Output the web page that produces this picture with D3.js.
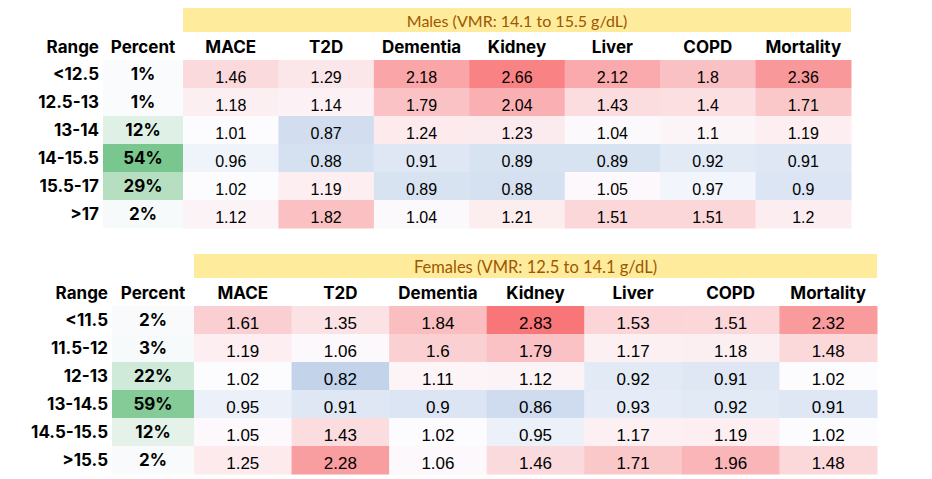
<!DOCTYPE html>
<html>
<head>
<meta charset="utf-8">
<script src="https://cdn.jsdelivr.net/npm/d3@7"></script>
<style>
  html, body { margin: 0; padding: 0; background: #ffffff; }
  svg { display: block; }
</style>
</head>
<body>
<svg id="chart" width="932" height="479"></svg>
<script>
// ---------- DATA ----------
const outcomes = ["MACE", "T2D", "Dementia", "Kidney", "Liver", "COPD", "Mortality"];

const maleTitle = "Males (VMR: 14.1 to 15.5 g/dL)";
const maleRanges = ["<12.5", "12.5-13", "13-14", "14-15.5", "15.5-17", ">17"];
const malePercent = [0.01, 0.01, 0.12, 0.54, 0.29, 0.02];
const maleValues = [
  [1.46, 1.29, 2.18, 2.66, 2.12, 1.8, 2.36],
  [1.18, 1.14, 1.79, 2.04, 1.43, 1.4, 1.71],
  [1.01, 0.87, 1.24, 1.23, 1.04, 1.1, 1.19],
  [0.96, 0.88, 0.91, 0.89, 0.89, 0.92, 0.91],
  [1.02, 1.19, 0.89, 0.88, 1.05, 0.97, 0.9],
  [1.12, 1.82, 1.04, 1.21, 1.51, 1.51, 1.2]
];

const femaleTitle = "Females (VMR: 12.5 to 14.1 g/dL)";
const femaleRanges = ["<11.5", "11.5-12", "12-13", "13-14.5", "14.5-15.5", ">15.5"];
const femalePercent = [0.02, 0.03, 0.22, 0.59, 0.12, 0.02];
const femaleValues = [
  [1.61, 1.35, 1.84, 2.83, 1.53, 1.51, 2.32],
  [1.19, 1.06, 1.6, 1.79, 1.17, 1.18, 1.48],
  [1.02, 0.82, 1.11, 1.12, 0.92, 0.91, 1.02],
  [0.95, 0.91, 0.9, 0.86, 0.93, 0.92, 0.91],
  [1.05, 1.43, 1.02, 0.95, 1.17, 1.19, 1.02],
  [1.25, 2.28, 1.06, 1.46, 1.71, 1.96, 1.48]
];

// ---------- STYLE ----------
const FONT = "'Liberation Sans', Arial, sans-serif";
const BOLD_FONT = "Inter, 'DejaVu Sans', sans-serif";
const BANNER_FONT = "Lato, 'Liberation Sans', sans-serif";
const heat = d3.scaleLinear()
  .domain([0.5, 1, 3])
  .range(["#5A8AC6", "#FCFCFF", "#F8696B"])
  .clamp(true);

const svg = d3.select("#chart");

function drawTable(cfg) {
  const g = svg.append("g");
  const x = d3.scaleBand().domain(outcomes).range([cfg.x0, cfg.x1]);
  const y = d3.scaleBand().domain(cfg.ranges).range([cfg.y0, cfg.y1]);
  const green = d3.scaleLinear().domain([0, cfg.pctMax]).range(["#FCFCFF", "#63BE7B"]).clamp(true);
  const fmtPct = d3.format(".0%");

  // banner
  g.append("rect")
    .attr("x", cfg.x0).attr("y", cfg.y0 - 52)
    .attr("width", cfg.x1 - cfg.x0).attr("height", 24)
    .attr("fill", "#FFEB9C");
  g.append("text")
    .attr("x", (cfg.x0 + cfg.x1) / 2).attr("y", cfg.y0 - 33)
    .attr("text-anchor", "middle")
    .attr("font-family", BANNER_FONT).attr("font-size", cfg.bannerSize)
    .attr("fill", "#9C5700")
    .text(cfg.title);

  const bold = sel => sel.attr("font-family", BOLD_FONT).attr("font-weight", "bold")
    .attr("font-size", 17).attr("fill", "#000");

  // column headers
  const hy = cfg.y0 - 7.5;
  g.append("text").attr("x", cfg.rangeRight).attr("y", hy)
    .attr("text-anchor", "end").call(bold).text("Range");
  g.append("text").attr("x", (cfg.pctX0 + cfg.x0) / 2).attr("y", hy)
    .attr("text-anchor", "middle").call(bold).text("Percent");
  g.selectAll("text.hdr").data(outcomes).enter().append("text")
    .attr("class", "hdr")
    .attr("x", d => x(d) + x.bandwidth() / 2).attr("y", hy)
    .attr("text-anchor", "middle").call(bold).text(d => d);

  // range labels
  g.selectAll("text.rng").data(cfg.ranges).enter().append("text")
    .attr("class", "rng")
    .attr("x", cfg.rangeRight).attr("y", d => y(d) + 20)
    .attr("text-anchor", "end").call(bold).text(d => d);

  // percent column
  const pctData = cfg.ranges.map((r, i) => ({ r, v: cfg.percent[i] }));
  g.selectAll("rect.pct").data(pctData).enter().append("rect")
    .attr("class", "pct")
    .attr("x", cfg.pctX0).attr("y", d => y(d.r))
    .attr("width", cfg.x0 - cfg.pctX0).attr("height", y.bandwidth())
    .attr("fill", d => green(d.v));
  g.selectAll("text.pct").data(pctData).enter().append("text")
    .attr("class", "pct")
    .attr("x", (cfg.pctX0 + cfg.x0) / 2).attr("y", d => y(d.r) + 20)
    .attr("text-anchor", "middle").call(bold).text(d => fmtPct(d.v));

  // heat cells
  const cells = [];
  cfg.ranges.forEach((r, i) => outcomes.forEach((o, j) => cells.push({ r, o, v: cfg.values[i][j] })));
  g.selectAll("rect.cell").data(cells).enter().append("rect")
    .attr("class", "cell")
    .attr("x", d => x(d.o)).attr("y", d => y(d.r))
    .attr("width", x.bandwidth() + 0.5).attr("height", y.bandwidth() + 0.5)
    .attr("fill", d => heat(d.v));
  g.selectAll("text.cell").data(cells).enter().append("text")
    .attr("class", "cell")
    .attr("x", d => x(d.o) + x.bandwidth() / 2).attr("y", d => y(d.r) + 23)
    .attr("text-anchor", "middle").attr("font-family", FONT)
    .attr("font-size", cfg.valueSize).attr("fill", "#000")
    .text(d => String(d.v));
}

drawTable({
  title: maleTitle, ranges: maleRanges, percent: malePercent, values: maleValues,
  x0: 183, x1: 851, y0: 60, y1: 228, pctX0: 103, rangeRight: 99, valueSize: 16, pctMax: 0.63, bannerSize: 16
});
drawTable({
  title: femaleTitle, ranges: femaleRanges, percent: femalePercent, values: femaleValues,
  x0: 194, x1: 877, y0: 306, y1: 474, pctX0: 112, rangeRight: 108, valueSize: 17, pctMax: 0.75, bannerSize: 16.5
});
</script>
</body>
</html>
